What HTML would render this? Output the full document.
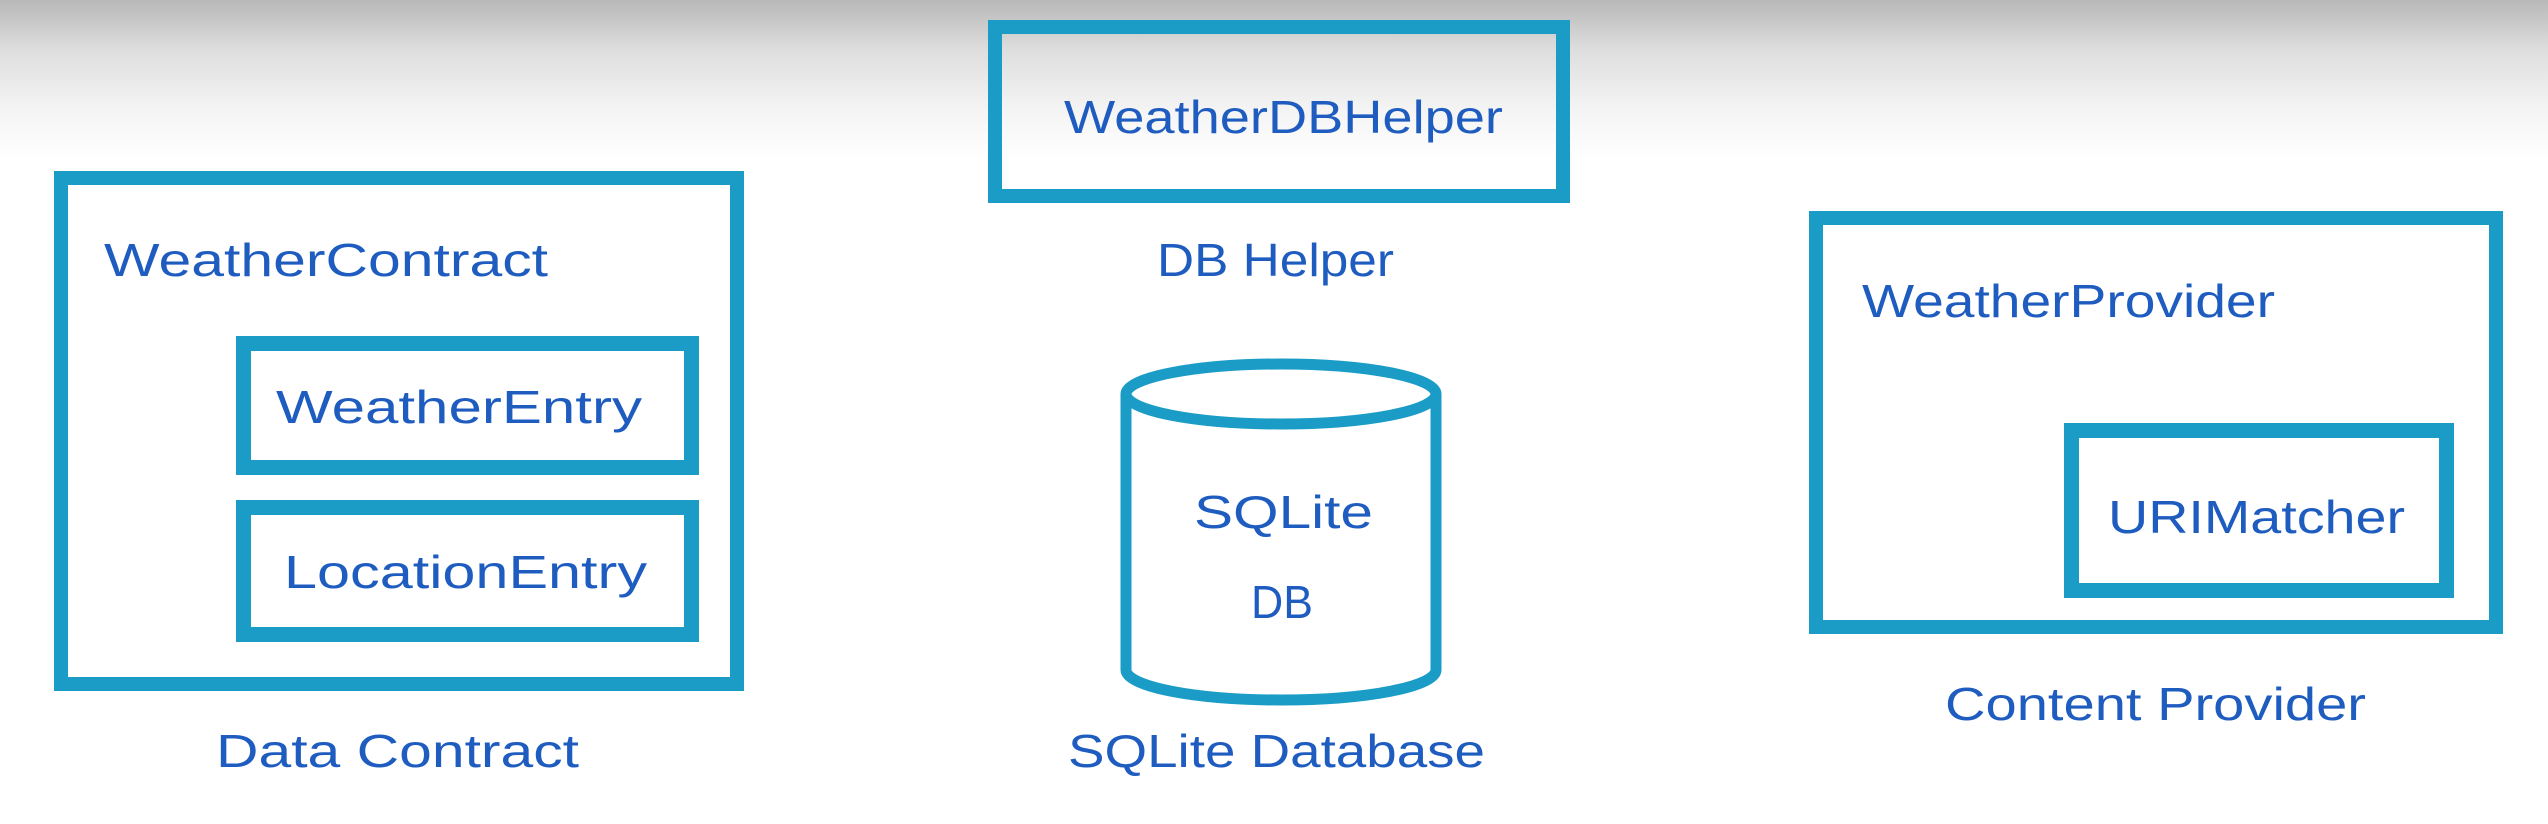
<!DOCTYPE html>
<html><head><style>
html,body{margin:0;padding:0;}
body{width:2548px;height:824px;overflow:hidden;background:linear-gradient(#b8b8b8 0px,#dedede 50px,#f4f4f4 110px,#ffffff 160px);}
svg{position:absolute;left:0;top:0;}
text{font-family:"Liberation Sans Narrow","Liberation Sans",sans-serif;fill:#1f5cc0;font-size:46px;}
</style></head><body>
<svg width="2548" height="824" viewBox="0 0 2548 824">
<g fill="none" stroke="#1a9cc6" stroke-width="14">
<rect x="61" y="178" width="676" height="506"/>
<rect x="243.5" y="343.5" width="448" height="124" stroke-width="15"/>
<rect x="243.5" y="507.5" width="448" height="127" stroke-width="15"/>
<rect x="995" y="27" width="568" height="169"/>
<rect x="1816" y="218" width="680" height="409"/>
<rect x="2071.5" y="430.5" width="375" height="160" stroke-width="15"/>
<path d="M1126 394 L1126 670 A155 30 0 0 0 1436 670 L1436 394" stroke-width="11"/>
<ellipse cx="1281" cy="394" rx="155" ry="30" stroke-width="11"/>
</g>
<text x="104" y="276" textLength="444" lengthAdjust="spacingAndGlyphs">WeatherContract</text>
<text x="276" y="423" textLength="366" lengthAdjust="spacingAndGlyphs">WeatherEntry</text>
<text x="284" y="588" textLength="363" lengthAdjust="spacingAndGlyphs">LocationEntry</text>
<text x="216" y="767" textLength="363" lengthAdjust="spacingAndGlyphs">Data Contract</text>
<text x="1064" y="133" textLength="439" lengthAdjust="spacingAndGlyphs">WeatherDBHelper</text>
<text x="1157" y="276" textLength="237" lengthAdjust="spacingAndGlyphs">DB Helper</text>
<text x="1194" y="528" textLength="179" lengthAdjust="spacingAndGlyphs">SQLite</text>
<text x="1251" y="618" textLength="62" lengthAdjust="spacingAndGlyphs">DB</text>
<text x="1068" y="767" textLength="417" lengthAdjust="spacingAndGlyphs">SQLite Database</text>
<text x="1862" y="317" textLength="413" lengthAdjust="spacingAndGlyphs">WeatherProvider</text>
<text x="2108" y="533" textLength="297" lengthAdjust="spacingAndGlyphs">URIMatcher</text>
<text x="1945" y="720" textLength="421" lengthAdjust="spacingAndGlyphs">Content Provider</text>
</svg>
</body></html>
